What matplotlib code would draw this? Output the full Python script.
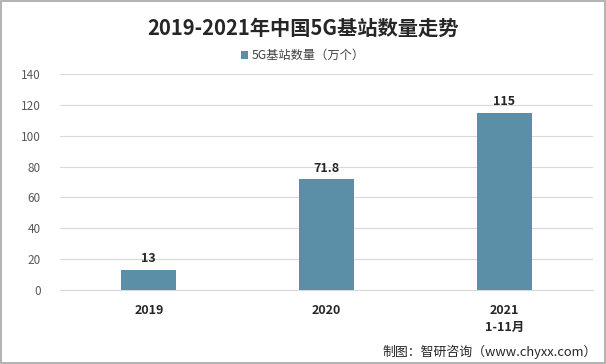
import matplotlib.pyplot as plt
from matplotlib.patches import Rectangle

plt.rcParams['font.family'] = ['Noto Sans CJK SC', 'DejaVu Sans']
plt.rcParams['axes.unicode_minus'] = False

years = ['2019', '2020', '2021\n1-11月']
values = [13, 71.8, 115]
labels = ['13', '71.8', '115']
yticks = [0, 20, 40, 60, 80, 100, 120, 140]

fig = plt.figure(figsize=(6.06, 3.64), dpi=100)
ax = fig.add_axes([0.099, 0.203, 0.8795, 0.594])

bars = ax.bar(range(len(years)), values, width=0.31, color='#5B8FA8',
              label='5G基站数量（万个）', zorder=3)
for b, t in zip(bars, labels):
    ax.text(b.get_x() + b.get_width() / 2, b.get_height() + 3, t,
            ha='center', va='bottom', fontsize=9, fontweight='bold', color='#262626')

ax.set_xlim(-0.5, 2.5)
ax.set_ylim(0, 140)
ax.set_yticks(yticks)
ax.set_xticks(range(len(years)))
ax.set_xticklabels(years, fontsize=9, fontweight='bold', color='#262626', linespacing=1.35)
ax.tick_params(axis='y', labelsize=8.5, labelcolor='#595959', length=0, pad=14)
ax.tick_params(axis='x', length=0, pad=10)
ax.grid(axis='y', color='#D9D9D9', linewidth=0.8, zorder=0)
for s in ['top', 'right', 'left']:
    ax.spines[s].set_visible(False)
ax.spines['bottom'].set_color('#D9D9D9')

fig.text(0.5, 0.922, '2019-2021年中国5G基站数量走势', ha='center', va='center',
         fontsize=14.6, fontweight='bold', color='#262626')
ax.legend(loc='center', bbox_to_anchor=(0.5 / 0.8795 - 0.099 / 0.8795, 1.085),
          frameon=False, fontsize=8.8, handlelength=0.6, handleheight=0.6,
          handletextpad=0.3, labelcolor='#404040')
fig.text(0.985, 0.033, '制图：智研咨询（www.chyxx.com）', ha='right', va='center',
         fontsize=9.3, color='#262626')

fig.add_artist(Rectangle((0.001, 0.002), 0.997, 0.995, transform=fig.transFigure,
                         fill=False, edgecolor='#A6A6A6', linewidth=1.2))

fig.savefig('out.png', dpi=100)
